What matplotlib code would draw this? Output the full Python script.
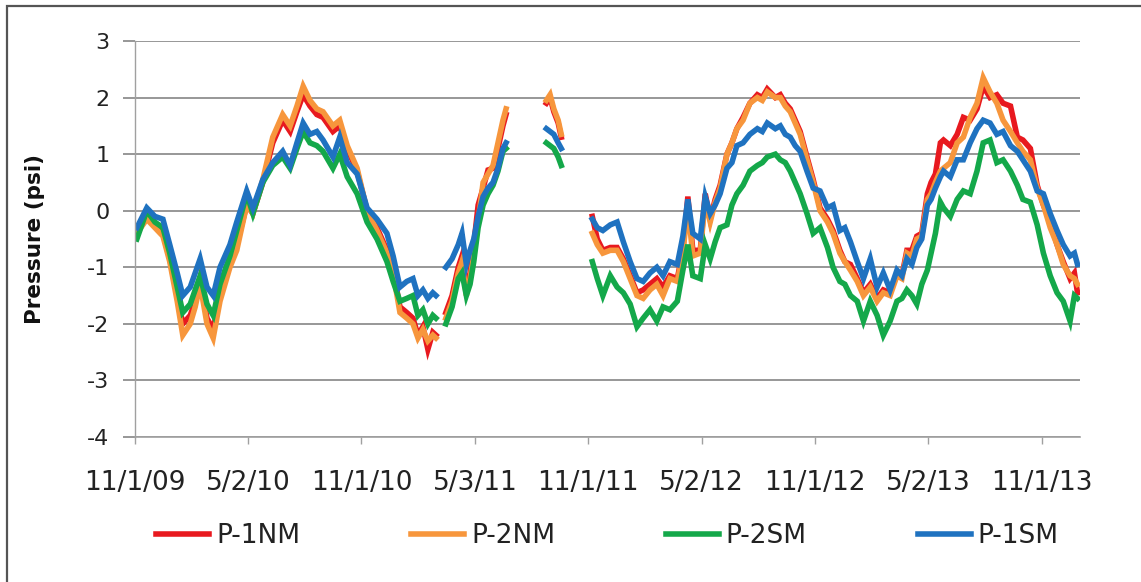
import numpy as np
import matplotlib
matplotlib.use("Agg")
import matplotlib.pyplot as plt
from matplotlib.patches import Rectangle

nan = float("nan")

# days since 11/1/2009 (nan values mark data gaps)
days = [3, 19, 32, 45, 56, 68, 77, 89, 97, 105, 116, 126, 137, 153, 164, 180, 190, 206, 222, 238,
        250, 261, 271, 282, 293, 303, 319, 330, 342, 358, 374, 390, 406, 416, 427, 438, 448, 456, 464, 472,
        480, 485,
        493,
        501, 511, 521, 527, 534, 540, 546, 553, 561, 569, 577, 585, 593, 598,
        630,
        663, 669, 675, 682, 687,
        712,
        737, 745, 754, 766, 777, 787, 798, 809, 819, 830,
        841, 851, 862, 874, 883, 891, 899, 911, 919, 927,
        935, 943, 954, 962, 970, 980, 991, 1003, 1011, 1019,
        1032, 1040, 1048, 1056, 1064, 1072, 1083, 1093, 1104, 1116,
        1125, 1136, 1144, 1153, 1164, 1174, 1185, 1196, 1206, 1217,
        1228, 1236, 1244, 1252, 1260, 1268, 1277, 1283, 1290, 1298,
        1303, 1314, 1325, 1335, 1346, 1357, 1367, 1378, 1389, 1399,
        1411, 1422, 1431, 1443, 1454, 1464, 1475, 1486, 1496, 1507,
        1514, 1519]

P1NM = [-0.35, -0.1, -0.25, -0.4, -0.85, -1.5, -2.0, -1.85, -1.6, -1.2,
        -1.9, -2.1, -1.5, -0.9, -0.6, 0.1, -0.05, 0.5, 1.2, 1.6,
        1.4, 1.75, 2.05, 1.85, 1.7, 1.65, 1.4, 1.5, 1.1, 0.7,
        0.0, -0.3, -0.7, -1.05, -1.7, -1.8, -1.9, -2.2, -2.05, -2.45,
        -2.15, -2.2,
        nan,
        -1.8, -1.5, -1.0, -0.8, -1.4, -1.1, -0.6, 0.1, 0.4, 0.72, 0.75, 1.1, 1.5, 1.7,
        nan,
        1.9, 2.0, 1.75, 1.55, 1.3,
        nan,
        -0.1, -0.5, -0.7, -0.65, -0.65, -0.85, -1.15, -1.45, -1.4, -1.3,
        -1.2, -1.35, -1.15, -1.2, -0.7, 0.25, -0.7, -0.7, 0.3, -0.15,
        0.2, 0.45, 1.0, 1.2, 1.45, 1.65, 1.9, 2.05, 2.0, 2.15,
        2.0, 2.05, 1.9, 1.8, 1.6, 1.4, 0.95, 0.55, 0.05, -0.15,
        -0.35, -0.7, -0.9, -0.95, -1.2, -1.45, -1.3, -1.55, -1.4, -1.45,
        -1.1, -1.15, -0.7, -0.7, -0.45, -0.4, 0.3, 0.5, 0.65, 1.2,
        1.25, 1.15, 1.35, 1.65, 1.6, 1.8, 2.2, 2.0, 2.05, 1.9,
        1.85, 1.3, 1.25, 1.1, 0.45, 0.1, -0.2, -0.6, -0.9, -1.2,
        -1.1, -1.45]

P2NM = [-0.4, -0.15, -0.3, -0.45, -0.9, -1.6, -2.2, -2.0, -1.7, -1.3,
        -2.0, -2.25, -1.6, -1.0, -0.7, 0.1, -0.05, 0.55, 1.3, 1.7,
        1.5, 1.85, 2.2, 1.95, 1.8, 1.75, 1.5, 1.6, 1.15, 0.75,
        0.0, -0.35, -0.75, -1.1, -1.8, -1.9, -2.0, -2.25, -2.1, -2.3,
        -2.2, -2.25,
        nan,
        -1.9, -1.6, -1.1, -0.9, -1.5, -1.2, -0.8, -0.2, 0.5, 0.65, 0.8, 1.2, 1.6, 1.8,
        nan,
        1.95, 2.05, 1.8, 1.6, 1.35,
        nan,
        -0.4, -0.6, -0.75, -0.7, -0.7, -0.9, -1.2, -1.5, -1.55, -1.4,
        -1.3, -1.5, -1.2, -1.25, -0.75, 0.1, -0.8, -0.75, 0.2, -0.2,
        0.15, 0.4, 1.0, 1.2, 1.45, 1.6, 1.9, 2.0, 1.95, 2.1,
        2.0, 2.0, 1.85, 1.75, 1.55, 1.35, 0.9, 0.5, 0.0, -0.2,
        -0.4, -0.75, -0.9, -1.05, -1.25, -1.5, -1.35, -1.6, -1.45, -1.5,
        -1.15, -1.2, -0.75, -0.8, -0.5, -0.45, 0.2, 0.3, 0.5, 0.7,
        0.75, 0.85, 1.2, 1.3, 1.65, 1.9, 2.35, 2.1, 1.9, 1.6,
        1.4, 1.2, 1.05, 0.9, 0.4, 0.1, -0.3, -0.6, -0.95, -1.15,
        -1.2, -1.3]

P2SM = [-0.5, 0.0, -0.2, -0.3, -0.75, -1.35, -1.8, -1.65, -1.4, -1.15,
        -1.65, -1.85, -1.3, -0.8, -0.35, 0.3, -0.05, 0.5, 0.8, 0.95,
        0.75, 1.1, 1.4, 1.2, 1.15, 1.05, 0.75, 1.0, 0.6, 0.3,
        -0.2, -0.5, -0.9, -1.25, -1.6, -1.55, -1.5, -1.85, -1.75, -2.0,
        -1.85, -1.9,
        nan,
        -2.0, -1.7, -1.2, -1.1, -1.5, -1.3, -0.9, -0.3, 0.1, 0.3, 0.45, 0.7, 1.05, 1.1,
        nan,
        1.2, 1.15, 1.1, 0.95, 0.8,
        nan,
        -0.9, -1.2, -1.5, -1.15, -1.35, -1.45, -1.65, -2.05, -1.9, -1.75,
        -1.95, -1.7, -1.75, -1.6, -1.05, -0.6, -1.15, -1.2, -0.6, -0.85,
        -0.55, -0.3, -0.25, 0.1, 0.3, 0.45, 0.7, 0.8, 0.85, 0.95,
        1.0, 0.9, 0.85, 0.7, 0.5, 0.3, -0.05, -0.4, -0.3, -0.65,
        -1.0, -1.25, -1.3, -1.5, -1.6, -1.95, -1.6, -1.85, -2.2, -1.95,
        -1.6, -1.55, -1.4, -1.5, -1.65, -1.3, -1.05, -0.75, -0.4, 0.15,
        0.05, -0.1, 0.2, 0.35, 0.3, 0.7, 1.2, 1.25, 0.85, 0.9,
        0.7, 0.45, 0.2, 0.15, -0.25, -0.75, -1.15, -1.45, -1.6, -1.95,
        -1.5, -1.55]

P1SM = [-0.3, 0.05, -0.1, -0.15, -0.6, -1.1, -1.5, -1.35, -1.1, -0.85,
        -1.35, -1.5, -1.0, -0.6, -0.2, 0.35, 0.05, 0.55, 0.85, 1.05,
        0.8, 1.2, 1.55, 1.35, 1.4, 1.25, 0.95, 1.3, 0.85, 0.65,
        0.05, -0.15, -0.4, -0.8, -1.35, -1.25, -1.2, -1.5, -1.4, -1.55,
        -1.45, -1.5,
        nan,
        -1.0, -0.85, -0.6, -0.4, -0.95, -0.7, -0.5, -0.1, 0.25, 0.4, 0.5, 0.75, 1.1, 1.2,
        nan,
        1.45, 1.4, 1.35, 1.2, 1.1,
        nan,
        -0.15, -0.3, -0.35, -0.25, -0.2, -0.55, -0.9, -1.2, -1.25, -1.1,
        -1.0, -1.15, -0.9, -0.95, -0.45, 0.2, -0.4, -0.5, 0.25, -0.05,
        0.1, 0.3, 0.75, 0.85, 1.15, 1.2, 1.35, 1.45, 1.4, 1.55,
        1.45, 1.5, 1.35, 1.3, 1.15, 1.05, 0.7, 0.4, 0.35, 0.05,
        0.1, -0.35, -0.3, -0.55, -0.9, -1.2, -0.85, -1.35, -1.1, -1.4,
        -1.05, -1.15, -0.85, -0.95, -0.65, -0.5, 0.1, 0.2, 0.4, 0.6,
        0.7, 0.6, 0.9, 0.9, 1.2, 1.45, 1.6, 1.55, 1.35, 1.4,
        1.15, 1.05, 0.9, 0.7, 0.35, 0.3, -0.05, -0.35, -0.6, -0.8,
        -0.75, -0.95]

series_names = ["P-1NM", "P-2NM", "P-2SM", "P-1SM"]
series_values = [P1NM, P2NM, P2SM, P1SM]
series_colors = ["#E8191F", "#F7963C", "#14A84A", "#1F72C0"]

tick_dates = ["2009-11-01", "2010-05-02", "2010-11-01", "2011-05-03", "2011-11-01",
              "2012-05-02", "2012-11-01", "2013-05-02", "2013-11-01"]
tick_labels = ["11/1/09", "5/2/10", "11/1/10", "5/3/11", "11/1/11",
               "5/2/12", "11/1/12", "5/2/13", "11/1/13"]
y_ticks = [3, 2, 1, 0, -1, -2, -3, -4]

base = np.datetime64("2009-11-01")
dates = base + np.array(days).astype("timedelta64[D]")

plt.rcParams["font.family"] = ["DejaVu Sans"]

W, H = 1141, 582
fig = plt.figure(figsize=(W / 100, H / 100), dpi=100)
fig.patch.set_facecolor("white")
ax = fig.add_axes([135 / W, 1 - 437 / H, (1080 - 135) / W, (437 - 41) / H])

for name, vals, col in zip(series_names, series_values, series_colors):
    ax.plot(dates, vals, color=col, lw=4.0, label=name, solid_joinstyle="miter")

ax.set_ylim(-4, 3)
ax.set_xlim(base, base + np.timedelta64(1523, "D"))
ax.set_yticks(y_ticks)
ax.set_yticklabels([str(v) for v in y_ticks], fontsize=16, color="#222222")
ax.set_xticks(np.array(tick_dates, dtype="datetime64[D]"))
ax.set_xticklabels(tick_labels, fontsize=19, color="#222222")

ax.grid(axis="y", color="#858585", lw=1.2)
ax.set_axisbelow(True)
for s in ["top", "right"]:
    ax.spines[s].set_visible(False)
ax.spines["left"].set_color("#a0a0a0")
ax.spines["bottom"].set_color("#a0a0a0")
ax.spines["left"].set_linewidth(1.0)
ax.spines["bottom"].set_linewidth(1.2)
ax.tick_params(axis="y", length=8.5, width=1.2, color="#858585", pad=10)
ax.tick_params(axis="x", length=5, width=1.0, color="#a0a0a0", pad=19)

ax.set_ylabel("Pressure (psi)", fontsize=15.5, fontweight="bold", color="#111111")
ax.yaxis.set_label_coords(-0.095, 0.5)

leg = ax.legend(loc="center", bbox_to_anchor=(0.5, -0.25), ncol=4, frameon=False,
                fontsize=19, handlelength=2.0, handletextpad=0.27, columnspacing=4.2)
for t in leg.get_texts():
    t.set_color("#222222")
for h in leg.get_lines():
    h.set_linewidth(4.0)

fig.patches.append(Rectangle((7 / W, -0.1), 1.2, 1 - 6 / H + 0.1, transform=fig.transFigure,
                             fill=False, edgecolor="#555555", lw=1.6))

fig.savefig("out.png", dpi=100)
